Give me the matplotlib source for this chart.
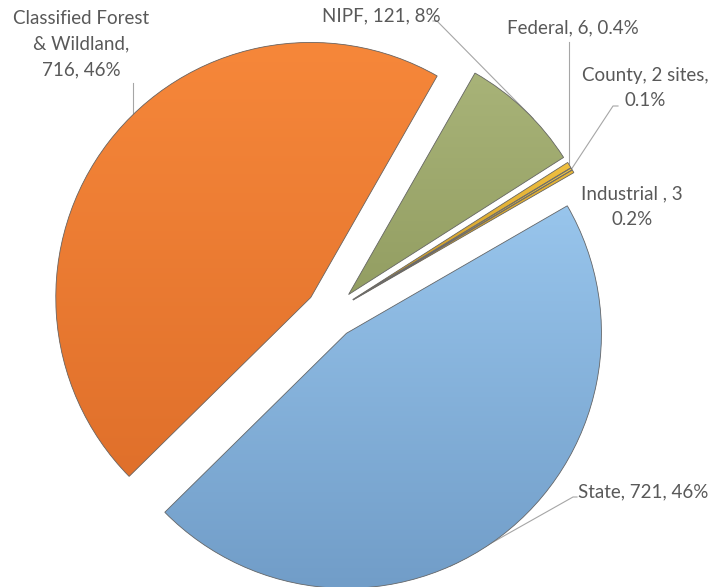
import numpy as np
import matplotlib; matplotlib.use("Agg")
import matplotlib.pyplot as plt
from matplotlib.patches import Wedge
from matplotlib.colors import to_rgb

# site counts by ownership
owners = ["State", "Classified Forest & Wildland", "NIPF", "Federal", "County", "Industrial"]
sites = [721, 716, 121, 6, 2, 3]
labels = ["State, 721, 46%", "Classified Forest\n& Wildland,\n716, 46%", "NIPF, 121, 8%",
          "Federal, 6, 0.4%", "County, 2 sites,\n0.1%", "Industrial , 3\n0.2%"]
top_cols = ["#98c5ec", "#f6873a", "#a8b378", "#f0c040", "#f0c848", "#e8b838"]
bot_cols = ["#719dc8", "#e0702b", "#939e62", "#c89420", "#cc9a28", "#c08a1c"]

W, H = 724, 587
CX, CY, R = 331, 313, 255          # pie centre / radius in pixels


def px(x, y):
    """pixel (from top-left) -> data coords of the pie axes"""
    return (x - CX) / R, (CY - y) / R


fig = plt.figure(figsize=(W / 100, H / 100), dpi=100)
ax = fig.add_axes([0, 0, 1, 1])
mid = [tuple((np.array(to_rgb(a)) + np.array(to_rgb(b))) / 2) for a, b in zip(top_cols, bot_cols)]
wedges, _ = ax.pie(sites, colors=mid, startangle=30, counterclock=False,
                   explode=[0.1] * len(sites), radius=1,
                   wedgeprops=dict(linewidth=0))
x0, y1 = px(0, 0); x1, y0 = px(W, H)

# vertical light-to-dark shading inside each slice, then the outline on top
for w, tc, bc in zip(wedges, top_cols, bot_cols):
    e = w.get_path().get_extents()
    t = np.linspace(0, 1, 256)[:, None, None]
    grad = (1 - t) * np.array(to_rgb(tc)) + t * np.array(to_rgb(bc))
    grad = np.repeat(grad, 2, axis=1)
    im = ax.imshow(grad, extent=(e.x0, e.x1, e.y0, e.y1), origin="upper",
                   aspect="auto", zorder=2, interpolation="bilinear")
    im.set_clip_path(w)
    ax.add_patch(Wedge(w.center, w.r, w.theta1, w.theta2, fill=False,
                       edgecolor="#6a6a6a", linewidth=0.6, zorder=3))
ax.set_xlim(x0, x1); ax.set_ylim(y0, y1)
ax.set_aspect("auto"); ax.set_axis_off()


def arc_pt(w, frac=0.5):
    a = np.deg2rad(w.theta1 + (w.theta2 - w.theta1) * frac)
    return w.center[0] + w.r * np.cos(a), w.center[1] + w.r * np.sin(a)


txt = dict(family=["Lato", "DejaVu Sans"], fontsize=13.5, color="#595959", linespacing=1.6)
line = dict(color="#a6a6a6", lw=0.8, zorder=1)

# State
ax.text(*px(578, 492), labels[0], ha="left", va="center", **txt)
sx, sy = arc_pt(wedges[0], 0.42)
ax.plot([sx, px(573, 497)[0], px(577, 497)[0]], [sy, px(573, 497)[1], px(577, 497)[1]], **line)

# Classified
ax.text(*px(81, 44), labels[1], ha="center", va="center", multialignment="center", **txt)
cx_, cy_ = arc_pt(wedges[1], 0.45)
ax.plot([cx_, cx_], [cy_, px(0, 83)[1]], **line)

# NIPF
ax.text(*px(322, 16), labels[2], ha="left", va="center", **txt)
nx, ny = arc_pt(wedges[2], 0.4)
ax.plot([nx, px(437, 21)[0], px(433, 21)[0]], [ny, px(437, 21)[1], px(433, 21)[1]], **line)

# Federal
ax.text(*px(507, 28), labels[3], ha="left", va="center", **txt)
fx, fy = arc_pt(wedges[3])
ax.plot([fx, fx], [fy, px(0, 42)[1]], **line)

# County
ax.text(*px(645, 88), labels[4], ha="center", va="center", multialignment="center", **txt)
kx, ky = arc_pt(wedges[4])
ax.plot([kx, px(613, 106)[0], px(618, 106)[0]], [ky, px(613, 106)[1], px(618, 106)[1]], **line)

# Industrial
ax.text(*px(632, 207), labels[5], ha="center", va="center", multialignment="center", **txt)

fig.savefig("out.png", dpi=100, facecolor="white")
